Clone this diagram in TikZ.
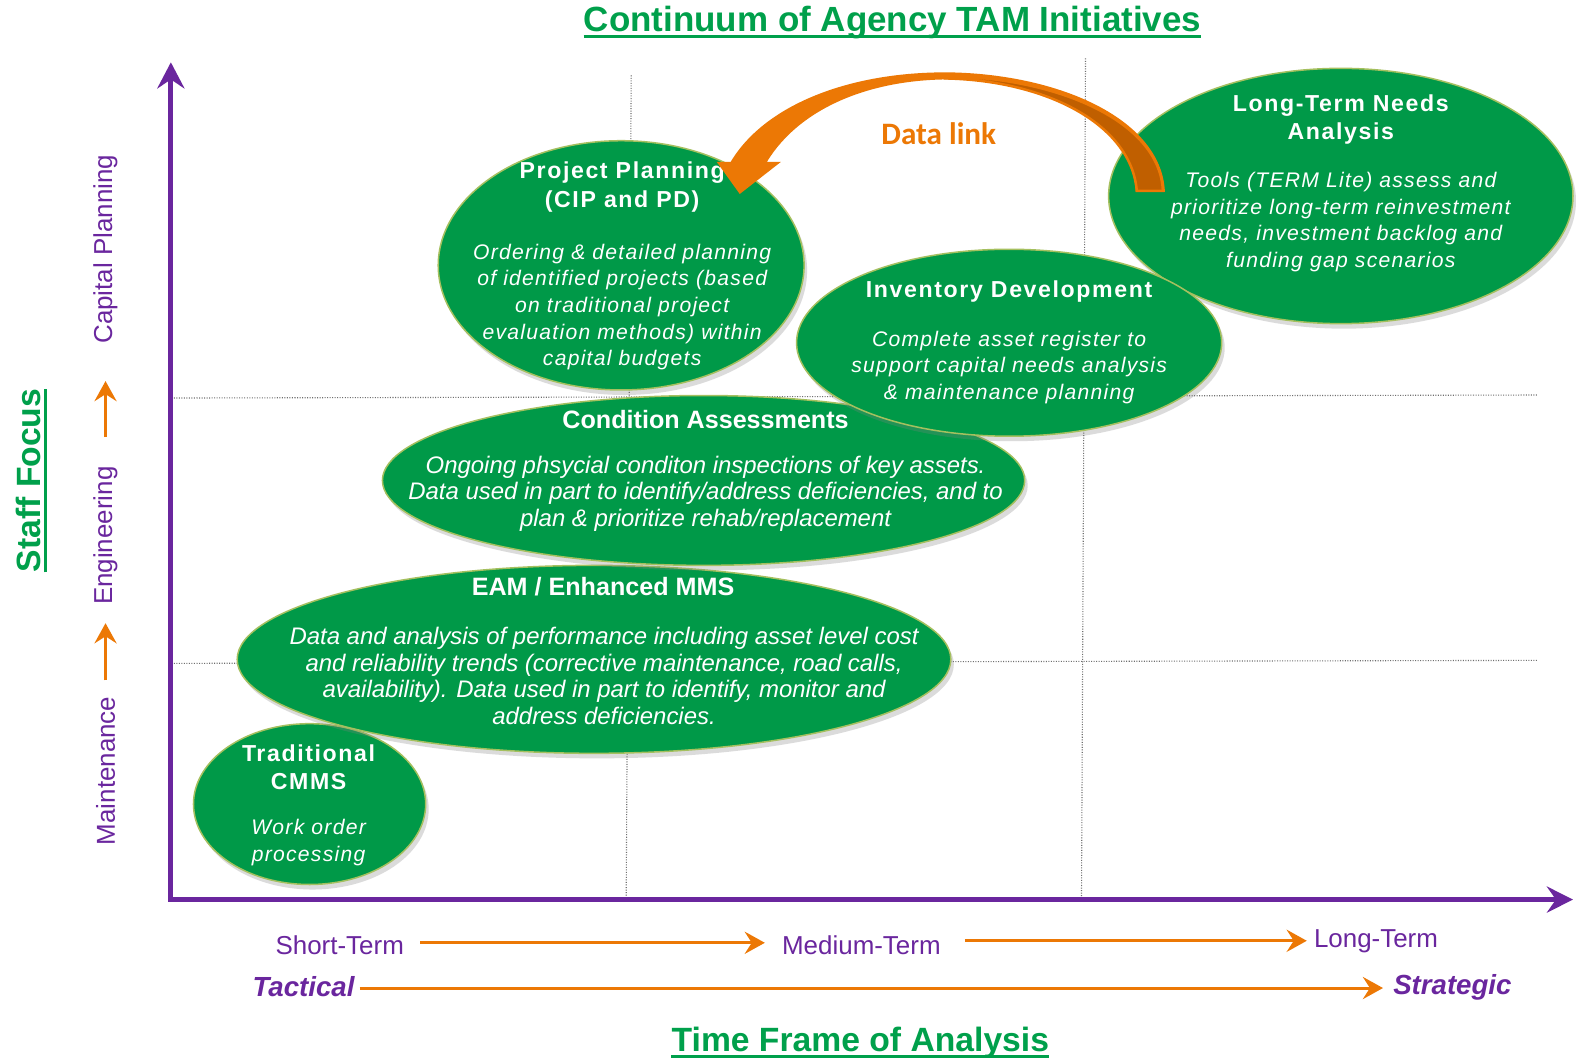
\documentclass[tikz,border=0pt]{standalone}
\usepackage{fontspec}
\setmainfont{Liberation Sans}
\newfontfamily\trkbody[LetterSpace=6]{Liberation Sans}
\newfontfamily\trktitle[LetterSpace=7]{Liberation Sans}
\newfontfamily\calib{Carlito}
\usetikzlibrary{arrows.meta,shapes.geometric,shadows}
\definecolor{egreen}{RGB}{0,153,72}
\definecolor{tgreen}{RGB}{0,160,75}
\definecolor{eline}{RGB}{165,192,95}
\definecolor{purp}{RGB}{106,38,158}
\definecolor{orng}{RGB}{236,120,5}
\definecolor{dorng}{RGB}{192,95,0}
\definecolor{gridc}{RGB}{110,110,110}
\tikzset{
  bub/.style={ellipse, fill=egreen, draw=eline, line width=1.5pt, inner sep=0pt,
    drop shadow={shadow xshift=3pt, shadow yshift=-5pt, opacity=0.28}},
  wt/.style={text=white, align=center, inner sep=0pt},
  ttl/.style={wt, font=\trktitle\fontsize{23}{28}\selectfont\bfseries},
  bdy/.style={wt, font=\trkbody\fontsize{21}{26.6}\selectfont\itshape},
  wttl/.style={wt, font=\fontsize{25}{28}\selectfont\bfseries},
  wbdy/.style={wt, font=\fontsize{23.8}{26.5}\selectfont\itshape},
  gridline/.style={gridc, line width=1.1pt, dash pattern=on 1pt off 1.5pt},
  axislbl/.style={text=purp, inner sep=0pt, font=\fontsize{25.8}{30}\selectfont},
  oarrow/.style={orng, line width=3pt, -{Stealth[length=20pt,width=22pt,inset=7pt]}},
  greenhead/.style={text=tgreen, inner sep=0pt, font=\fontsize{33.5}{38}\selectfont\bfseries},
  uline/.style={tgreen, line width=3pt}
}
\begin{document}
\begin{tikzpicture}[x=1pt,y=-1pt]
\useasboundingbox[fill=white] (0,0) rectangle (1568,1055);

% grid
\draw[gridline] (628,75) -- (623,893);
\draw[gridline] (1080,58) -- (1076,893);
\draw[gridline] (173,396) -- (1530,393);
\draw[gridline] (173,660) -- (1530,657);

% title
\node[greenhead, font=\fontsize{34.8}{38}\selectfont\bfseries] (title) at (888,22) {Continuum of Agency TAM Initiatives};
\draw[uline] ([yshift=-5pt]title.base west) -- ([yshift=-5pt]title.base east);

% axes
\coordinate (ytop) at (170,62);
\coordinate (corner) at (170,895);
\coordinate (xend) at (1565,895);
\draw[purp, line width=5pt, {Stealth[length=26pt,width=27pt,inset=9pt]}-{Stealth[length=26pt,width=26pt,inset=9pt]}] (ytop) -- (corner) -- (xend);

% left labels
\node[greenhead, rotate=90] (sf) at (28,478) {Staff Focus};
\draw[uline] ([xshift=5pt]sf.base west) -- ([xshift=5pt]sf.base east);
\node[axislbl, rotate=90] (cp) at (105,248) {Capital Planning};
\node[axislbl, rotate=90] (eng) at (105,533) {Engineering};
\node[axislbl, rotate=90] (mnt) at (105,767) {Maintenance};
\draw[oarrow] ([yshift=16pt]mnt.east) -- ([yshift=-18pt]eng.west);
\draw[oarrow] ([yshift=29pt]eng.east) -- ([yshift=-37pt]cp.west);

% bottom labels
\node[axislbl] (st) at (338,940) {Short-Term};
\node[axislbl] (mt) at (857,940) {Medium-Term};
\node[axislbl] (lt) at (1369,936) {Long-Term};
\draw[oarrow] ([xshift=16pt,yshift=2pt]st.east) -- ([xshift=-17pt,yshift=2pt]mt.west);
\draw[oarrow] ([xshift=24pt,yshift=4pt]mt.east) -- ([xshift=-7pt]lt.west);
\node[axislbl, font=\fontsize{27.5}{30}\selectfont\bfseries\itshape] (tac) at (302,982) {Tactical};
\node[axislbl, font=\fontsize{27.5}{30}\selectfont\bfseries\itshape] (strat) at (1445,982) {Strategic};
\draw[oarrow] ([xshift=5pt,yshift=-1pt]tac.east) -- ([xshift=-10pt,yshift=-1pt]strat.west);
\node[greenhead] (tf) at (856,1037) {Time Frame of Analysis};
\draw[uline] ([yshift=-5pt]tf.base west) -- ([yshift=-5pt]tf.base east);

% Long-term needs
\node[bub, minimum width=462pt, minimum height=254pt] (ltn) at (1334,195) {};
\node[ttl] (ltnT) at (1334,118.5) {Long-Term Needs\\Analysis};
\node[bdy] (ltnB) at (1334,221) {Tools (TERM Lite) assess and\\prioritize long-term reinvestment\\needs, investment backlog and\\funding gap scenarios};

% Traditional CMMS
\node[bub, minimum width=231pt, minimum height=160pt] (trad) at (308,800) {};
\node[ttl] (tradT) at (307,763) {Traditional\\CMMS};
\node[bdy] (tradB) at (307,838) {Work order\\processing};

% EAM
\node[bub, minimum width=710pt, minimum height=187pt] (eam) at (591,656) {};
\node[wttl] (eamT) at (600,584) {EAM / Enhanced MMS};
\node[wbdy] (eamB) at (601,672.5) {Data and analysis of performance including asset level cost\\and reliability trends (corrective maintenance, road calls,\\availability). Data used in part to identify, monitor and\\address deficiencies.};

% Condition assessments
\node[bub, minimum width=639pt, minimum height=169pt] (cond) at (700,478) {};
\node[wttl] (condT) at (702,417) {Condition Assessments};
\node[wbdy] (condB) at (702,491) {Ongoing phsycial conditon inspections of key assets.\\Data used in part to identify/address deficiencies, and to\\plan \& prioritize rehab/replacement};

% Project planning
\node[bub, minimum width=364pt, minimum height=248pt] (proj) at (618,264) {};
\node[ttl] (projT) at (619,186) {Project Planning\\(CIP and PD)};
\node[bdy] (projB) at (619,305.5) {Ordering \& detailed planning\\of identified projects (based\\on traditional project\\evaluation methods) within\\capital budgets};

% Inventory development
\node[bub, minimum width=423pt, minimum height=186pt] (inv) at (1004,341) {};
\node[ttl] (invT) at (1004,290) {Inventory Development};
\node[bdy] (invB) at (1004,365.5) {Complete asset register to\\support capital needs analysis\\\& maintenance planning};

% curved data link arrow
\fill[orng] (1159,191) .. controls (1156,119) and (1055,74) .. (945,72)
  .. controls (846,71) and (761,104) .. (727,161) -- (713,161) -- (736,193)
  -- (777,161) -- (763,161) .. controls (796,107) and (866,79) .. (945,79)
  .. controls (1045,80) and (1126,124) .. (1130,191) -- cycle;
\filldraw[fill=dorng, draw=orng, line width=2.5pt] (940,76) .. controls (1045,76) and (1154,118) .. (1157,190)
  -- (1131,190) .. controls (1126,125) and (1043,80) .. (940,78) -- cycle;
\node[text=orng, inner sep=0pt, font=\calib\fontsize{31}{36}\selectfont\bfseries] (dl) at (934,133) {Data link};
\end{tikzpicture}
\end{document}
